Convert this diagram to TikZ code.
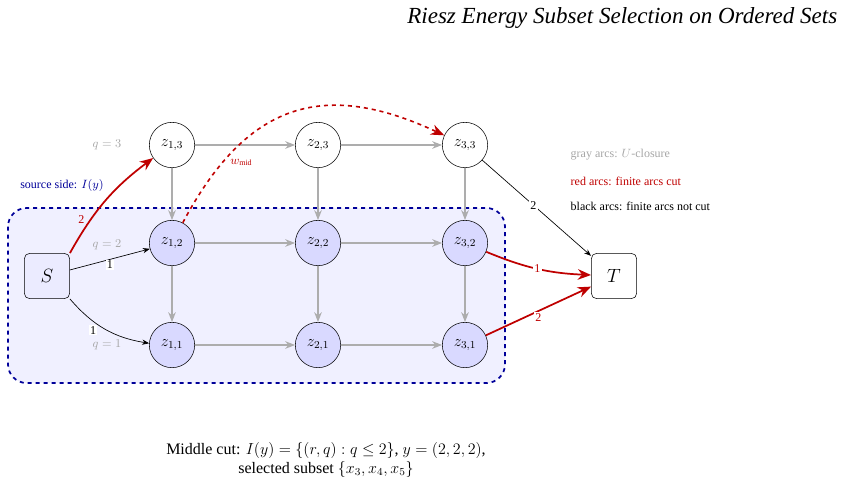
\documentclass[tikz,border=0pt]{standalone}
\usepackage{fontspec}
\setmainfont{Liberation Serif}
\usetikzlibrary{arrows.meta,positioning,calc}
\tikzset{
  >=Stealth,
  every node/.append style={font=\small},
}
\begin{document}
\begin{tikzpicture}[x=0.75pt,y=-0.75pt,
  zs/.style   ={circle, draw, minimum size=34pt, inner sep=0pt, font=\large},
  zin/.style  ={zs, fill=blue!15},
  term/.style ={draw, rounded corners=4pt, minimum size=34pt, font=\Large},
  garc/.style ={-{Stealth[length=2.6mm,width=2mm]}, draw=black!32, line width=0.9pt},
  rarc/.style ={-{Stealth[length=3.5mm,width=2.8mm]}, draw=red!75!black, line width=1.3pt},
  barc/.style ={->, line width=0.5pt},
  wlab/.style ={fill=white, inner sep=1pt, font=\small},
  qlab/.style ={text=black!35, font=\small},
  region/.style={draw=blue!60!black, dashed, line width=1.3pt, fill=blue!6, rounded corners=14pt}
]
\useasboundingbox (0,0) rectangle (846,486);

% source side region
\draw[region] (8,208) rectangle (505,383);

% title
\node[anchor=north east, font=\LARGE\itshape] (title) at (842,3) {Riesz Energy Subset Selection on Ordered Sets};

% grid nodes
\node[zs]  (z13) at (172,145) {$z_{1,3}$};
\node[zs]  (z23) at (318,145) {$z_{2,3}$};
\node[zs]  (z33) at (465,145) {$z_{3,3}$};
\node[zin] (z12) at (172,243) {$z_{1,2}$};
\node[zin] (z22) at (318,243) {$z_{2,2}$};
\node[zin] (z32) at (465,243) {$z_{3,2}$};
\node[zin] (z11) at (172,345) {$z_{1,1}$};
\node[zin] (z21) at (318,345) {$z_{2,1}$};
\node[zin] (z31) at (465,345) {$z_{3,1}$};
\node[term, fill=blue!8] (S) at (47,276) {$S$};
\node[term] (T) at (614,276) {$T$};

% row labels
\node[qlab] (q3) at (107,145) {$q=3$};
\node[qlab] (q2) at (107,245) {$q=2$};
\node[qlab] (q1) at (107,345) {$q=1$};

% gray closure arcs
\foreach \a/\b in {z13/z23, z23/z33, z12/z22, z22/z32, z11/z21, z21/z31,
                   z13/z12, z12/z11, z23/z22, z22/z21, z33/z32, z32/z31}{
  \draw[garc] (\a) -- (\b);
}

% source arcs
\draw[rarc] (S.north east) to[bend left=12] node[pos=0.3, left=1pt, text=red!75!black, font=\small] {2} (z13);
\draw[barc] (S) -- node[wlab, pos=0.5, below] {1} (z12);
\draw[barc] (S.south east) to[bend right=20] node[wlab, pos=0.4, below left] {1} (z11);

% sink arcs
\draw[barc] (z33) -- node[wlab, pos=0.47] {2} (T);
\draw[rarc] (z32) to[bend right=10] node[wlab, pos=0.5, text=red!75!black] {1} (T);
\draw[rarc] (z31) -- node[wlab, pos=0.5, below, text=red!75!black] {2} (T);

% middle arc
\draw[rarc, dashed, line width=1.2pt] (z12) to[out=62, in=155, looseness=1.25] node[pos=0.2, right=2pt, text=red!75!black, font=\small] {$w_{\mathrm{mid}}$} (z33);

% side note and legend
\node[text=blue!60!black, font=\small] (side) at (62,185) {source side: $I(y)$};
\node[anchor=west, text=black!35, font=\small] (lg1) at (566,155) {gray arcs: $U$-closure};
\node[anchor=west, text=red!75!black, font=\small] (lg2) at (566,181) {red arcs: finite arcs cut};
\node[anchor=west, font=\small] (lg3) at (566,206) {black arcs: finite arcs not cut};

% caption
\node[align=center, font=\large] (cap) at (326,460)
  {Middle cut: $I(y)=\{(r,q): q\le 2\}$, $y=(2,2,2)$,\\ selected subset $\{x_3,x_4,x_5\}$};
\end{tikzpicture}
\end{document}
